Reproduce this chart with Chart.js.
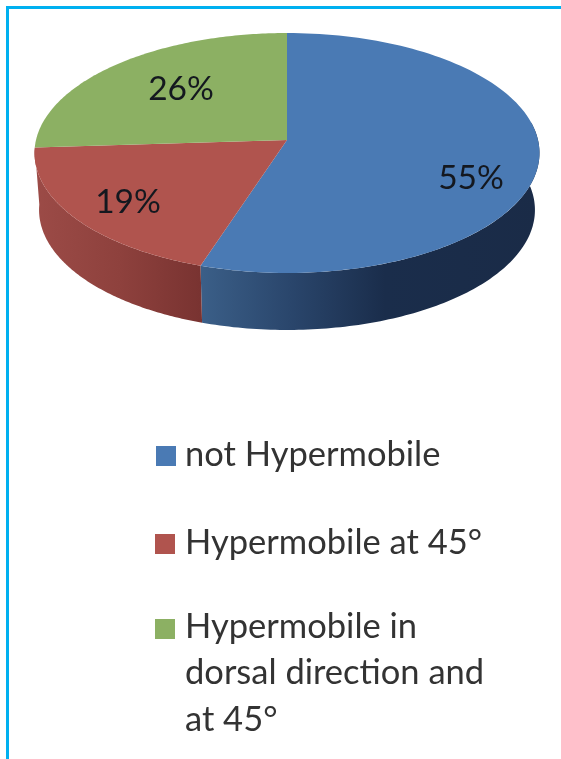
<!DOCTYPE html>
<html>
<head>
<meta charset="utf-8">
<title>Hypermobility pie</title>
<script src="https://cdn.jsdelivr.net/npm/chart.js@4"></script>
<style>
    html, body { margin: 0; padding: 0; background: #fff; overflow: hidden; }
    #wrap { position: relative; width: 561px; height: 759px; }
    #frame {
        position: absolute; left: 6px; top: 6px; right: 0; bottom: 0;
        border-left: 3px solid #00b0f0; border-top: 3px solid #00b0f0;
    }
    #chart { position: absolute; left: 0; top: 0; filter: blur(0.7px); }
</style>
</head>
<body>
<div id="wrap">
    <canvas id="chart" width="561" height="759"></canvas>
    <div id="frame"></div>
</div>
<script>
const categories = ['not Hypermobile', 'Hypermobile at 45°', 'Hypermobile in dorsal direction and at 45°'];
const shares = [55, 19, 26];
const percentLabels = ['55%', '19%', '26%'];
const legendLines = [
    ['not Hypermobile'],
    ['Hypermobile at 45°'],
    ['Hypermobile in', 'dorsal direction and', 'at 45°'],
];
const topColors = ['#4a7ab4', '#b0544e', '#8cb063'];

// stops of the side wall shading, left to right in pixels (green wall is hidden)
const wallStops = [
    [[200, '#3b5f88'], [290, '#2a466c'], [385, '#1a2d4b'], [540, '#1a2b47']],
    [[34, '#9c4b47'], [120, '#8e413d'], [200, '#793331']],
];
const labelPos = [[471, 178], [128, 202], [181, 89]];
const legendBoxes = [[156, 446], [155, 534], [155, 619]];
const legendBaselines = [[466], [554], [638, 684, 731]];

// perspective of the tilted disc, fitted on the reference
const CX = 287, Y0 = 140, KX = 251, A = 103.4, C = -0.1083;
const DEPTH = 57, LOWER_SCALE = 0.982;

function project(angle) {
    const u = Math.cos(angle), v = Math.sin(angle);
    const w = 1 + C * v;
    return [CX + KX * u / w, (A * v + Y0) / w];
}

function rimPoints(from, to, steps = 120) {
    const pts = [];
    for (let i = 0; i <= steps; i++) pts.push(project(from + (to - from) * i / steps));
    return pts;
}

const pie3d = {
    id: 'pie3d',
    beforeDatasetsDraw(chart) {
        const { ctx } = chart;
        const arcs = chart.getDatasetMeta(0).data;

        // side walls first, only the part facing the viewer
        wallStops.forEach((stops, i) => {
            const arc = arcs[i];
            const from = Math.max(arc.startAngle, -0.15);
            const to = arc.endAngle;
            const top = rimPoints(from, to);
            const x0 = stops[0][0];
            const x1 = stops[stops.length - 1][0];
            const grad = ctx.createLinearGradient(x0, 0, x1, 0);
            stops.forEach(([x, col]) => grad.addColorStop((x - x0) / (x1 - x0), col));
            ctx.beginPath();
            top.forEach(([x, y], k) => k ? ctx.lineTo(x, y) : ctx.moveTo(x, y));
            top.slice().reverse().forEach(([x, y]) => {
                ctx.lineTo(CX + (x - CX) * LOWER_SCALE, y + DEPTH);
            });
            ctx.closePath();
            ctx.fillStyle = grad;
            ctx.fill();
        });

        // top face, angles come from the library's arc elements
        arcs.forEach(arc => {
            ctx.beginPath();
            ctx.moveTo(CX, Y0);
            rimPoints(arc.startAngle, arc.endAngle).forEach(([x, y]) => ctx.lineTo(x, y));
            ctx.closePath();
            ctx.fillStyle = arc.options.backgroundColor;
            ctx.fill();
        });
        return false;
    },
    afterDraw(chart) {
        const { ctx } = chart;
        ctx.save();
        ctx.textBaseline = 'middle';
        ctx.textAlign = 'center';
        ctx.font = '33.5px Lato';
        ctx.fillStyle = '#14181f';
        percentLabels.forEach((t, i) => ctx.fillText(t, labelPos[i][0], labelPos[i][1]));

        // legend, wrapped by hand like the original
        ctx.textBaseline = 'alphabetic';
        ctx.textAlign = 'left';
        ctx.font = '34.5px Lato';
        legendLines.forEach((lines, i) => {
            ctx.fillStyle = topColors[i];
            ctx.fillRect(legendBoxes[i][0], legendBoxes[i][1], 20, 20);
            ctx.fillStyle = '#333333';
            lines.forEach((line, k) => ctx.fillText(line, 185, legendBaselines[i][k]));
        });
        ctx.restore();
    },
};

new Chart(document.getElementById('chart'), {
    type: 'pie',
    data: {
        labels: categories,
        datasets: [{ data: shares, backgroundColor: topColors, borderWidth: 0 }],
    },
    options: {
        responsive: false,
        animation: false,
        events: [],
        plugins: {
            legend: { display: false },
            tooltip: { enabled: false },
        },
    },
    plugins: [pie3d],
});
</script>
</body>
</html>
